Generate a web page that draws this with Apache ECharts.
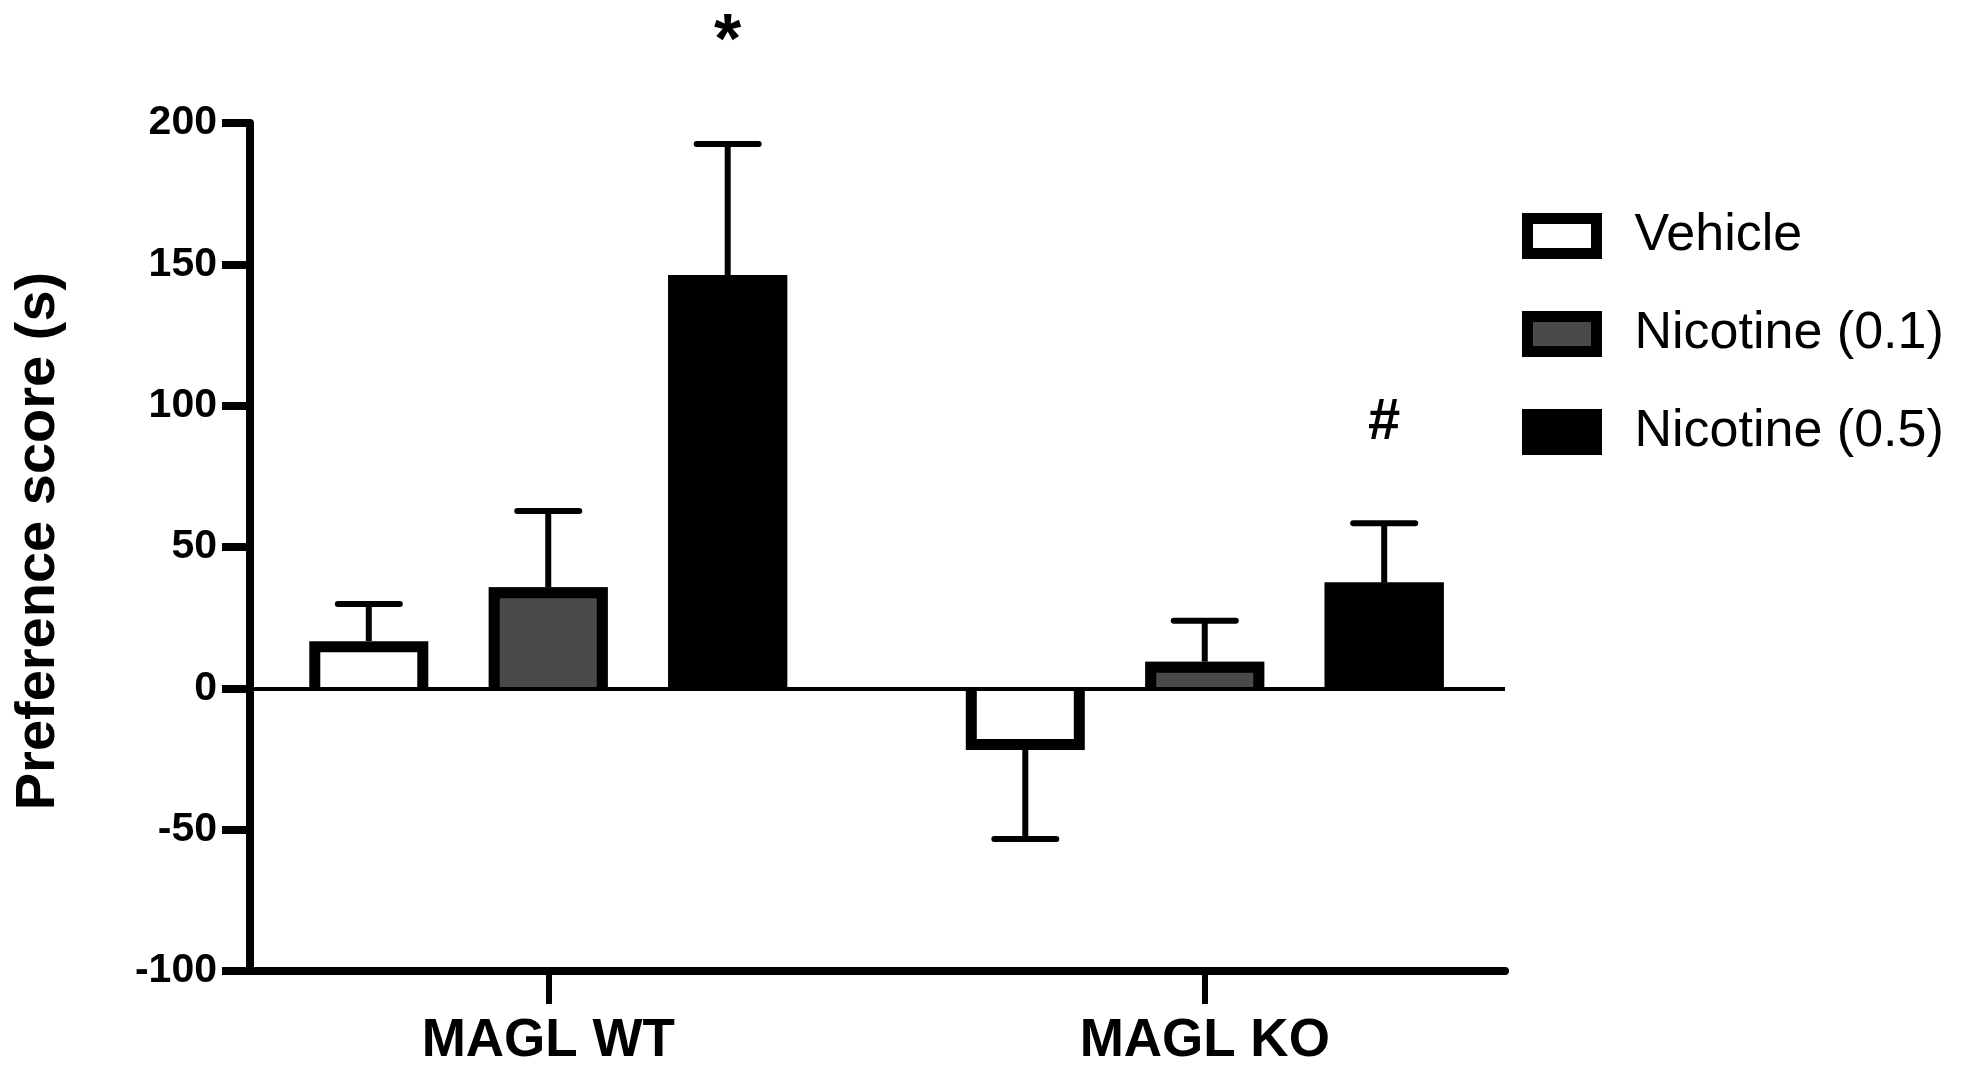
<!DOCTYPE html>
<html><head><meta charset="utf-8">
<script src="https://cdn.jsdelivr.net/npm/echarts@6/dist/echarts.min.js"></script>
<style>html,body{margin:0;padding:0;background:#fff}#c{width:1980px;height:1069px}</style>
</head><body><div id="c"></div>
<script>
// ---- data ----
const categories = ['MAGL WT', 'MAGL KO'];
const seriesNames = ['Vehicle', 'Nicotine (0.1)', 'Nicotine (0.5)'];
const vehicleMean = [16.7, -21.8];
const nic01Mean = [35.8, 9.4];
const nic05Mean = [146.2, 37.4];
const vehicleSem = [13.1, 31.5];
const nic01Sem = [26.9, 14.5];
const nic05Sem = [46.4, 21.0];
const yMin = -100, yMax = 200, yInterval = 50;
const sigLabels = ['*', '#'];          // above Nicotine (0.5) bars
const sigHeights = [228, 94];          // y value of annotation

// ---- style constants ----
const FONT = "'Liberation Sans', Arial, sans-serif";
const BAR_W = 119, BAR_GAP = 0.508, BORDER = 11;
const fills = ['#ffffff', '#4a4a4a', '#000000'];
const means = [vehicleMean, nic01Mean, nic05Mean];
const sems = [vehicleSem, nic01Sem, nic05Sem];

const errData = [];
for (let s = 0; s < 3; s++) for (let c = 0; c < categories.length; c++) errData.push([c, s, means[s][c], sems[s][c]]);
const sigData = sigLabels.map((t, c) => [c, 2, sigHeights[c]]);

function barX(api, cat, s) {
  return api.coord([cat, 0])[0] + (s - 1) * BAR_W * (1 + BAR_GAP);
}

function barSeries(s) {
  return {
    name: seriesNames[s], type: 'custom', xAxisIndex: 0, yAxisIndex: 0, z: 3, silent: true,
    encode: {x: 0, y: 1},
    data: means[s].map((v, c) => [c, v]),
    itemStyle: {color: fills[s], borderColor: '#000', borderWidth: BORDER},
    renderItem: function (params, api) {
      const cat = api.value(0), v = api.value(1);
      const x = barX(api, cat, s), h = BAR_W / 2, b = BORDER;
      const y0 = api.coord([cat, 0])[1], y1 = api.coord([cat, v])[1];
      const dir = y0 > y1 ? 1 : -1;
      const yIn = y1 + dir * b / 2;
      return {type: 'group', children: [
        {type: 'rect', shape: {x: x - h, y: Math.min(y0, y1), width: BAR_W, height: Math.abs(y0 - y1)},
         style: {fill: fills[s]}},
        {type: 'polyline', shape: {points: [[x - h + b / 2, y0], [x - h + b / 2, yIn], [x + h - b / 2, yIn], [x + h - b / 2, y0]]},
         style: {stroke: '#000', lineWidth: b, fill: null, lineJoin: 'miter'}}
      ]};
    }
  };
}

const chart = echarts.init(document.getElementById('c'), null, {renderer: 'canvas'});
chart.setOption({
  animation: false,
  backgroundColor: '#fff',
  grid: [
    {left: 220, top: 123, width: 1313, height: 848},
    {left: 250, top: 123, width: 1255, height: 848}
  ],
  legend: {
    data: seriesNames, orient: 'vertical', left: 1522, top: 210, padding: 0,
    icon: 'rect', itemWidth: 69, itemHeight: 35, itemGap: 46,
    itemStyle: {borderWidth: 11, borderColor: '#000'},
    textStyle: {fontFamily: FONT, fontSize: 52, color: '#000', lineHeight: 50, padding: [0, 0, 0, 33]}
  },
  xAxis: [
    {type: 'category', gridIndex: 0, data: categories,
     axisLine: {show: false, onZero: false},
     axisTick: {show: true, alignWithLabel: true, length: 33, lineStyle: {color: '#000', width: 6}},
     axisLabel: {fontFamily: FONT, fontSize: 53, fontWeight: 'bold', color: '#000', margin: 44},
     splitLine: {show: false}},
    {type: 'value', gridIndex: 1, min: 0, max: 1,
     axisLine: {show: true, onZero: false, lineStyle: {color: '#000', width: 8}},
     axisTick: {show: false}, axisLabel: {show: false}, splitLine: {show: false}}
  ],
  yAxis: [
    {type: 'value', gridIndex: 0, min: yMin, max: yMax, interval: yInterval, show: false, splitLine: {show: false}},
    {type: 'value', gridIndex: 1, min: yMin, max: yMax, interval: yInterval,
     name: 'Preference score (s)', nameLocation: 'middle', nameGap: 183,
     nameTextStyle: {fontFamily: FONT, fontSize: 56, fontWeight: 'bold', color: '#000', padding: [0, 0, 0, 12]},
     axisLine: {show: true, lineStyle: {color: '#000', width: 8}},
     axisTick: {show: true, length: 28, lineStyle: {color: '#000', width: 8}},
     axisLabel: {fontFamily: FONT, fontSize: 41, fontWeight: 'bold', color: '#000', margin: 33},
     splitLine: {show: false}}
  ],
  series: [
    barSeries(0), barSeries(1), barSeries(2),
    {
      type: 'custom', xAxisIndex: 0, yAxisIndex: 0, z: 2, silent: true, clip: false,
      encode: {x: 0, y: 2}, data: errData,
      renderItem: function (params, api) {
        const cat = api.value(0), s = api.value(1), m = api.value(2), e = api.value(3);
        const end = m >= 0 ? m + e : m - e;
        const x = barX(api, cat, s);
        const y0 = api.coord([cat, m])[1], y1 = api.coord([cat, end])[1];
        return {type: 'group', children: [
          {type: 'line', shape: {x1: x, y1: y0, x2: x, y2: y1}, style: {stroke: '#000', lineWidth: 6}},
          {type: 'line', shape: {x1: x - 31, y1: y1, x2: x + 31, y2: y1}, style: {stroke: '#000', lineWidth: 6, lineCap: 'round'}}
        ]};
      }
    },
    {
      type: 'custom', xAxisIndex: 0, yAxisIndex: 0, z: 4, silent: true, clip: false,
      encode: {x: 0, y: 2}, data: sigData,
      renderItem: function (params, api) {
        const cat = api.value(0), s = api.value(1), v = api.value(2);
        const x = barX(api, cat, s), y = api.coord([cat, v])[1];
        const size = cat === 0 ? 70 : 58;
        return {type: 'text', style: {x: x, y: y, text: sigLabels[cat], fill: '#000',
          font: 'bold ' + size + 'px ' + FONT, align: 'center', verticalAlign: 'middle'}};
      }
    },
    {
      type: 'line', xAxisIndex: 1, yAxisIndex: 1, data: [[0, 0]], showSymbol: false, silent: true, z: 5,
      lineStyle: {opacity: 0},
      markLine: {symbol: 'none', silent: true, label: {show: false},
        lineStyle: {color: '#000', width: 4, type: 'solid'}, data: [{yAxis: 0}]}
    }
  ]
});
</script></body></html>
